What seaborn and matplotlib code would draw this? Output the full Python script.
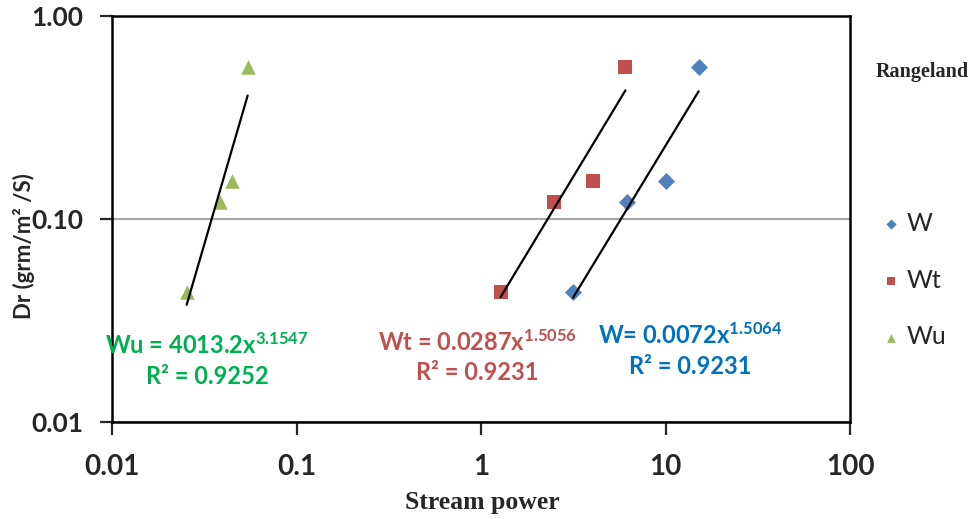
import numpy as np
import pandas as pd
import matplotlib
matplotlib.use("Agg")
import matplotlib.pyplot as plt
import seaborn as sns

# ---- data ----
series_names = ["W", "Wt", "Wu"]
dr_values = [0.0439, 0.1206, 0.154, 0.563]
w_power = [3.15, 6.21, 10.1, 15.1]
wt_power = [1.274, 2.47, 4.02, 6.06]
wu_power = [0.0253, 0.0383, 0.0444, 0.0542]
x_ticks = [0.01, 0.1, 1, 10, 100]
x_tick_labels = ["0.01", "0.1", "1", "10", "100"]
y_ticks = [0.01, 0.1, 1.0]
y_tick_labels = ["0.01", "0.10", "1.00"]
equations = ["W= 0.0072x$^{1.5064}$", "Wt = 0.0287x$^{1.5056}$", "Wu = 4013.2x$^{3.1547}$"]
r2_texts = ["R² = 0.9231", "R² = 0.9231", "R² = 0.9252"]

marker_colors = {"W": "#4F81BD", "Wt": "#C0504D", "Wu": "#9BBB59"}
text_colors = {"W": "#0070C0", "Wt": "#C0504D", "Wu": "#00B050"}
markers = {"W": "D", "Wt": "s", "Wu": "^"}

df = pd.DataFrame({
    "power": w_power + wt_power + wu_power,
    "dr": dr_values * 3,
    "series": ["W"] * 4 + ["Wt"] * 4 + ["Wu"] * 4,
})

sns.set_theme(style="white")
plt.rcParams["font.family"] = ["Lato", "DejaVu Sans"]
plt.rcParams["mathtext.fontset"] = "custom"
plt.rcParams["mathtext.rm"] = "Lato:bold"
plt.rcParams["mathtext.bf"] = "Lato:bold"
plt.rcParams["mathtext.default"] = "bf"

fig = plt.figure(figsize=(9.74, 5.19), dpi=100)
ax = fig.add_axes([0.1153, 0.1869, 0.8727 - 0.1153, 0.9692 - 0.1869])
ax.set_xscale("log")
ax.set_yscale("log")

sizes = {"W": 75, "Wt": 110, "Wu": 110}
for name in series_names:
    sub = df[df.series == name]
    sns.scatterplot(data=sub, x="power", y="dr", marker=markers[name],
                    color=marker_colors[name], s=sizes[name], linewidth=0,
                    ax=ax, label=name, zorder=3)
    # power-law trendline
    lx, ly = np.log10(sub.power.values), np.log10(sub.dr.values)
    b, a = np.polyfit(lx, ly, 1)
    xs = np.array([sub.power.min(), sub.power.max()])
    ax.plot(xs, 10 ** a * xs ** b, color="black", lw=1.6, zorder=4)

ax.set_xlim(0.01, 100)
ax.set_ylim(0.01, 1.0)
ax.set_xticks(x_ticks)
ax.set_xticklabels(x_tick_labels)
ax.set_yticks(y_ticks)
ax.set_yticklabels(y_tick_labels)
ax.minorticks_off()
ax.tick_params(axis="x", which="major", direction="out", length=9, width=1.6,
               labelsize=20, pad=14, bottom=True)
ax.tick_params(axis="y", which="major", direction="out", length=9, width=1.6,
               labelsize=19, pad=12, left=True)
for lab in ax.get_xticklabels() + ax.get_yticklabels():
    lab.set_fontweight("bold")
ax.yaxis.grid(True, color="#A6A6A6", lw=1.5)
ax.xaxis.grid(False)
for sp in ax.spines.values():
    sp.set_visible(True)
    sp.set_color("black")
    sp.set_linewidth(1.8)

ax.set_xlabel("Stream power", family=["Liberation Serif"], fontweight="bold",
              fontsize=18.5)
ax.xaxis.set_label_coords((482 - 112.3) / 737.7, (422 - 502) / 406)
ax.xaxis.label.set_va("center")
ax.set_ylabel("Dr (grm/m² /S)", fontweight="bold", fontsize=16)
ax.yaxis.set_label_coords((24 - 112.3) / 737.7, (422 - 246) / 406)
ax.yaxis.label.set_va("center")

# equations (centre x, eq centre y, R² centre y in pixels)
eq_pos = {"W": (690, 335, 367), "Wt": (477, 342, 373), "Wu": (207, 345, 377)}
for i, name in enumerate(series_names):
    px, py1, py2 = eq_pos[name]
    fig.text(px / 974, 1 - py1 / 519, equations[i], color=text_colors[name],
             fontsize=17, fontweight="bold", ha="center", va="center")
    fig.text(px / 974, 1 - py2 / 519, r2_texts[i], color=text_colors[name],
             fontsize=17, fontweight="bold", ha="center", va="center")

fig.text(969 / 974, 1 - 72 / 519, "Rangeland", family=["Liberation Serif"],
         fontweight="bold", fontsize=14.5, ha="right", va="center")

handles, labels = ax.get_legend_handles_labels()
ax.legend(handles, labels, loc="upper left", bbox_to_anchor=(878 / 974, 1 - 212 / 519),
          bbox_transform=fig.transFigure, frameon=False, fontsize=18,
          labelspacing=1.35, handletextpad=0.15, markerscale=0.6, handlelength=1.0,
          borderaxespad=0, borderpad=0)

fig.savefig("out.png", dpi=100)
